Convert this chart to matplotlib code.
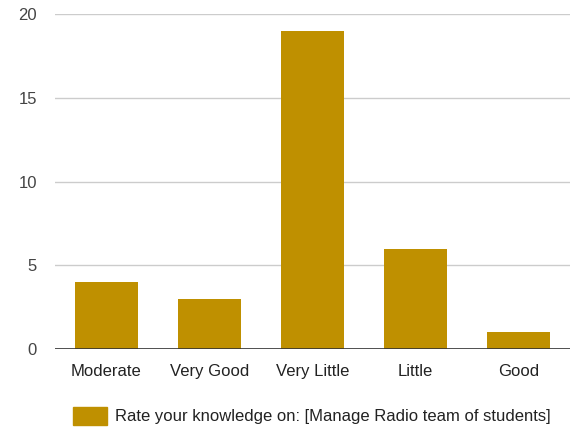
import matplotlib
matplotlib.use("Agg")
import matplotlib.pyplot as plt
import numpy as np

categories = ["Moderate", "Very Good", "Very Little", "Little", "Good"]
counts = [4, 3, 19, 6, 1]
series_name = "Rate your knowledge on: [Manage Radio team of students]"
y_ticks = [0, 5, 10, 15, 20]

bar_color = "#bf9000"
plt.rcParams["font.family"] = ["Liberation Sans", "DejaVu Sans"]

fig = plt.figure(figsize=(5.71, 4.28), dpi=100)
ax = fig.add_axes([55 / 571, 1 - 349 / 428, 515 / 571, 335 / 428])

x = np.arange(len(categories))
ax.bar(x, counts, width=0.61, color=bar_color, zorder=3)

ax.set_xlim(-0.5, len(categories) - 0.5)
ax.set_ylim(0, 20)
ax.set_yticks(y_ticks)
ax.set_xticks(x, categories)
ax.grid(axis="y", color="#cccccc", linewidth=1, zorder=0)
ax.axhline(0, color="#333333", linewidth=1.2, zorder=4)

for s in ax.spines.values():
    s.set_visible(False)
ax.tick_params(axis="both", length=0, labelsize=12, colors="#444444")
ax.tick_params(axis="x", pad=19.5, labelcolor="#222222")
ax.tick_params(axis="y", pad=13)
for lbl in ax.get_xticklabels():
    lbl.set_va("baseline")

# legend below the plot
fig.patches.append(plt.Rectangle((73 / 571, 1 - 425 / 428), 34 / 571, 18 / 428,
                                 transform=fig.transFigure, color=bar_color))
fig.text(115 / 571, 1 - 421 / 428, series_name, fontsize=12, color="#222222",
         va="baseline", ha="left")

fig.savefig("out.png", dpi=100)
